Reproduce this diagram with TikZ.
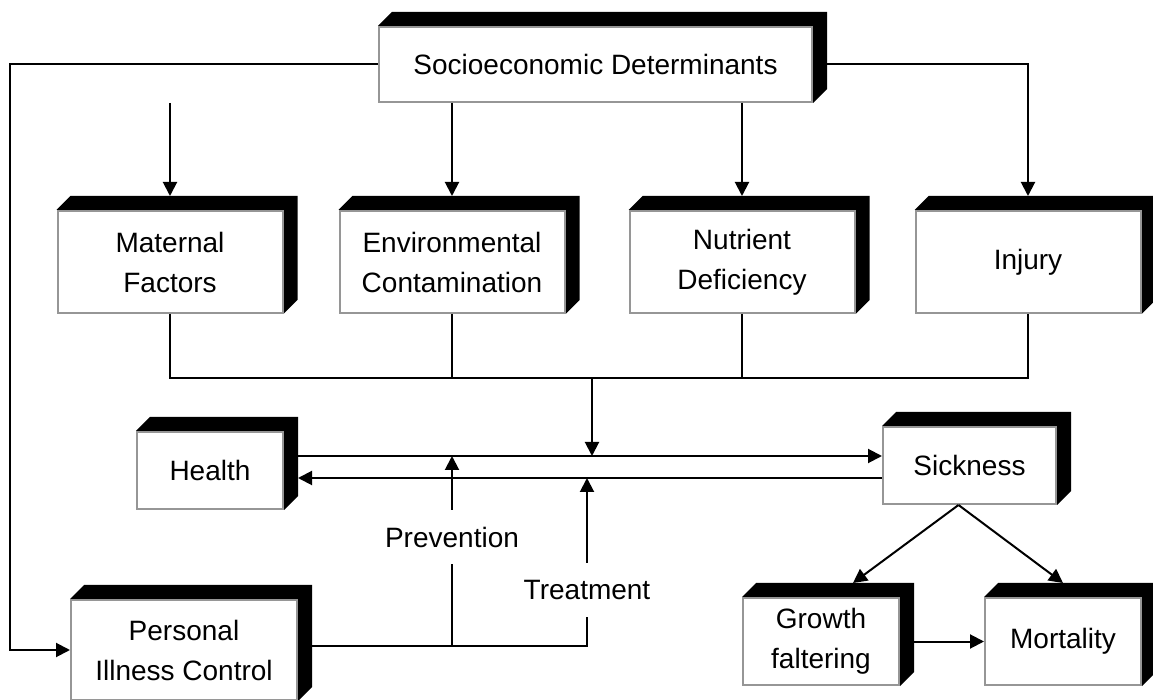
\documentclass[tikz,border=0pt]{standalone}
\usepackage{fontspec}
\setmainfont{Liberation Sans}
\usetikzlibrary{arrows.meta, backgrounds}
\definecolor{rim}{RGB}{150,150,150}

\newcommand{\extrude}[1]{%
  \fill (#1.north west) -- ++(7pt,7pt) -- ([shift={(7pt,7pt)}]#1.north east)
    -- ([shift={(7pt,7pt)}]#1.south east) -- (#1.south east) -- (#1.north east) -- cycle;}

\begin{document}
\begin{tikzpicture}[x=0.5pt, y=-0.5pt, font=\fontsize{14}{20}\selectfont,
  blockbox/.style={draw=rim, line width=1pt, fill=white, align=center, inner sep=0pt},
  arr/.style={-{Triangle[length=7pt, width=7pt]}, line width=1pt},
  ln/.style={line width=1pt}]
\useasboundingbox (0,0) rectangle (1153,700);

\node[blockbox, minimum width=216.5pt, minimum height=37.5pt] (socio) at (595.5,64.5) {Socioeconomic Determinants};
\node[blockbox, minimum width=112.5pt, minimum height=51pt] (maternal) at (170,262) {Maternal\\Factors};
\node[blockbox, minimum width=112.5pt, minimum height=51pt] (envir) at (452,262) {Environmental\\Contamination};
\node[blockbox, minimum width=112.5pt, minimum height=51pt] (nutrient) at (742,262) {Nutrient\\Deficiency};
\node[blockbox, minimum width=112.5pt, minimum height=51pt] (injury) at (1028,262) {Injury};
\node[blockbox, minimum width=73pt, minimum height=38.5pt] (health) at (210,470.5) {Health};
\node[blockbox, minimum width=86.5pt, minimum height=38.5pt] (sickness) at (969.5,465.5) {Sickness};
\node[blockbox, minimum width=78pt, minimum height=43.5pt] (growth) at (821,641.5) {Growth\\faltering};
\node[blockbox, minimum width=78pt, minimum height=43.5pt] (mortality) at (1063,641.5) {Mortality};
\node[blockbox, minimum width=113pt, minimum height=50pt] (personal) at (184,650) {Personal\\Illness Control};

\node[minimum height=27pt, inner sep=0pt] (prev) at (452,537) {Prevention};
\node[minimum height=27pt, inner sep=0pt] (treat) at (587,590) {Treatment};

% solid sides of the boxes
\begin{scope}[on background layer]
  \fill[white] (0,0) rectangle (1153,700);
  \foreach \b in {socio,maternal,envir,nutrient,injury,health,sickness,growth,mortality,personal}
    {\extrude{\b}}
\end{scope}

\coordinate (bus) at (592,378);
\coordinate (top) at (0,456);
\coordinate (bot) at (0,478);
\coordinate (lft) at (10,0);
\coordinate (hx) at ([xshift=7pt]health.east);
\coordinate (ctl) at ([xshift=7pt,yshift=2pt]personal.east);

\draw[arr] (socio.west) -| (lft |- personal.west) -- (personal.west);
\draw[arr] ([xshift=7pt]socio.east) -| ([yshift=7pt]injury.north);
\foreach \b in {maternal,envir,nutrient}
  \draw[arr] (socio.south -| \b) -- ([yshift=7pt]\b.north);

\draw[ln] (maternal.south) -- (maternal.south |- bus) -- (injury.south |- bus) -- (injury.south);
\foreach \b in {envir,nutrient}
  \draw[ln] (\b.south) -- (\b.south |- bus);
\draw[arr] (bus) -- (bus |- top);

\draw[arr] (hx |- top) -- (sickness.west |- top);
\draw[arr] (sickness.west |- bot) -- (hx |- bot);

\draw[ln] (ctl) -- (ctl -| treat) -- (treat);
\draw[ln] (prev |- ctl) -- (prev);
\draw[arr] (prev) -- (prev |- top);
\draw[arr] (treat) -- (treat |- bot);

\draw[arr] ([xshift=-5.5pt]sickness.south) -- ([xshift=16pt,yshift=7pt]growth.north);
\draw[arr] ([xshift=-5.5pt]sickness.south) -- ([yshift=7pt]mortality.north);
\draw[arr] ([xshift=7pt]growth.east) -- (mortality.west);
\end{tikzpicture}
\end{document}
